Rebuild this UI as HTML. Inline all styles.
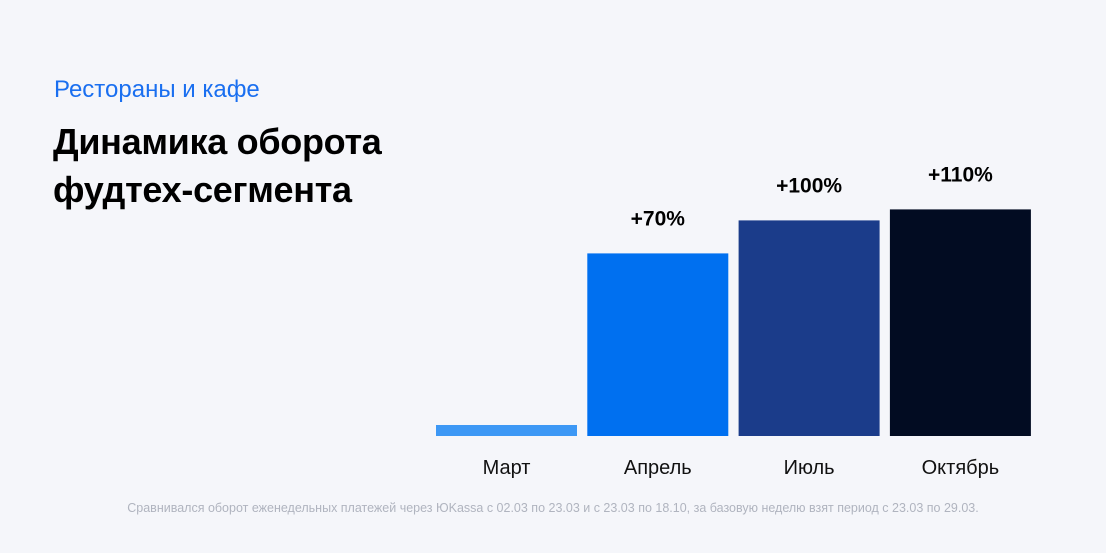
<!DOCTYPE html>
<html><head><meta charset="utf-8"><style>
body{margin:0;width:1106px;height:553px;background:#f5f6fa;font-family:"Liberation Sans",sans-serif;position:relative;overflow:hidden}
.sub{position:absolute;left:54px;top:76px;font-size:24px;color:#1a6ff0}
.title{position:absolute;left:53px;top:118px;font-size:36px;font-weight:bold;line-height:48px;color:#000;letter-spacing:-0.3px}
.note{position:absolute;left:0;width:1106px;top:501px;text-align:center;font-size:12.5px;color:#b0b4bf}
svg{position:absolute;left:0;top:0}
</style></head><body>
<div class="sub">Рестораны и кафе</div>
<div class="title">Динамика оборота<br>фудтех-сегмента</div>
<svg id="chart" width="1106" height="553"></svg>
<div class="note">Сравнивался оборот еженедельных платежей через ЮKassa с 02.03 по 23.03 и с 23.03 по 18.10, за базовую неделю взят период с 23.03 по 29.03.</div>
<script>
const categories=["Март","Апрель","Июль","Октябрь"];
const values=[5,83,98,103];
const valueLabels=["","+70%","+100%","+110%"];
const colors=["#3d98f5","#0070f0","#1b3c8a","#020c22"];
const svg=document.getElementById('chart');
const NS="http://www.w3.org/2000/svg";
const baseY=436,left=436,step=151.3,bw=141,pxPer=2.2;
const y=v=>baseY-v*pxPer;
categories.forEach((c,i)=>{
  const x=left+i*step;
  const r=document.createElementNS(NS,'rect');
  r.setAttribute('x',x);r.setAttribute('y',y(values[i]));
  r.setAttribute('width',bw);r.setAttribute('height',baseY-y(values[i]));
  r.setAttribute('fill',colors[i]);
  
  
  svg.appendChild(r);
  const t=document.createElementNS(NS,'text');
  t.setAttribute('x',x+bw/2);t.setAttribute('y',474);
  t.setAttribute('text-anchor','middle');t.setAttribute('font-size','20');t.setAttribute('fill','#111');
  t.textContent=c;
  
  
  svg.appendChild(t);
  if(valueLabels[i]){
    const v=document.createElementNS(NS,'text');
    v.setAttribute('x',x+bw/2);v.setAttribute('y',y(values[i])-28);
    v.setAttribute('text-anchor','middle');v.setAttribute('font-size','21');v.setAttribute('font-weight','bold');v.setAttribute('fill','#000');
    v.textContent=valueLabels[i];
    
    
    svg.appendChild(v);
  }
});
</script>
</body></html>
